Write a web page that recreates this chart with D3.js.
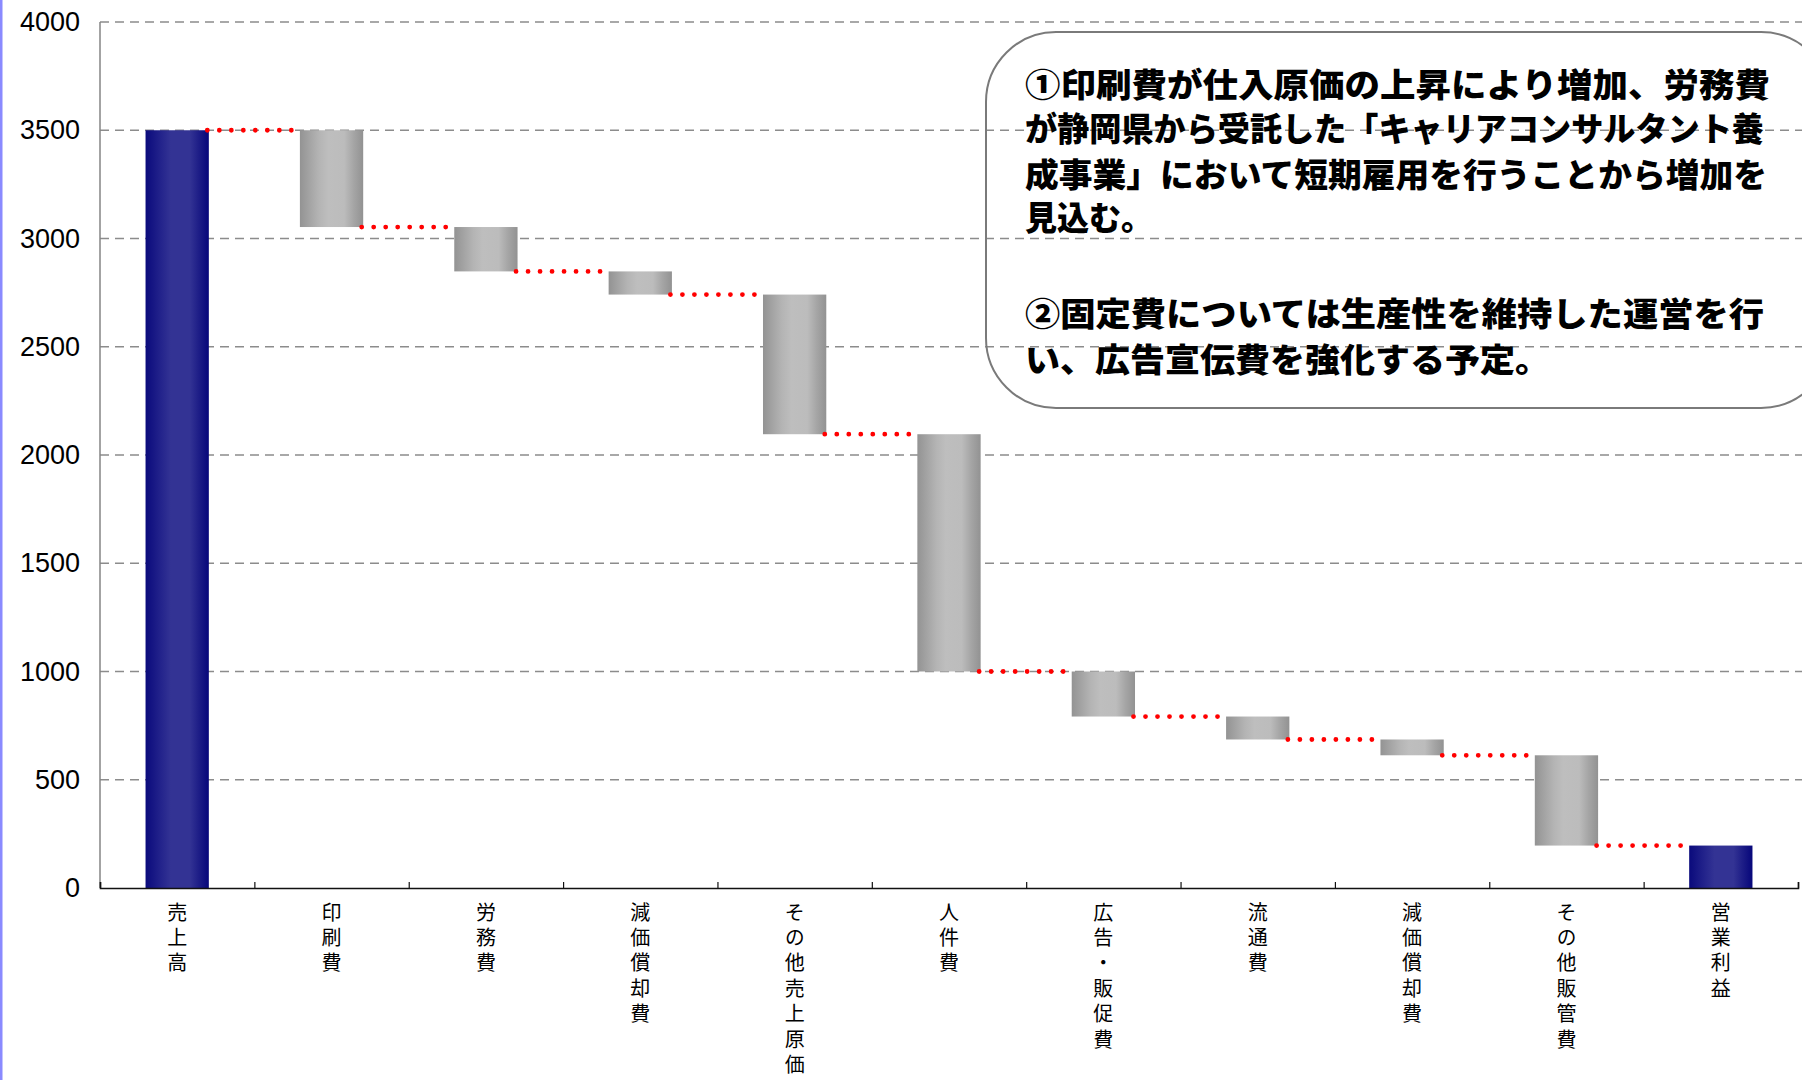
<!DOCTYPE html>
<html><head><meta charset="utf-8">
<script src="https://cdn.jsdelivr.net/npm/d3@7"></script>
<style>body{margin:0;background:#fff;} svg{display:block;}</style>
</head><body>
<svg id="chart" width="1802" height="1080"></svg>
<script>
const categories = ["売上高","印刷費","労務費","減価償却費","その他売上原価","人件費","広告・販促費","流通費","減価償却費","その他販管費","営業利益"];
const values = [3500,-447,-205,-107,-645,-1096,-208,-106,-73,-417,196];
const isTotal = [true,false,false,false,false,false,false,false,false,false,true];
const yTicks = [0,500,1000,1500,2000,2500,3000,3500,4000];
const noteLines = [
  "①印刷費が仕入原価の上昇により増加、労務費",
  "が静岡県から受託した「キャリアコンサルタント養",
  "成事業」において短期雇用を行うことから増加を",
  "見込む。",
  "",
  "②固定費については生産性を維持した運営を行",
  "い、広告宣伝費を強化する予定。"
];

(function(){
const svg = d3.select("#chart");
const W = 1802, H = 1080;
const pLeft = 100, pRight = 1798, pTop = 22, pBottom = 888;

let running = 0;
const bars = values.map((v,i)=>{
  let s,e;
  if (isTotal[i]) { s = 0; e = v; running = v; }
  else { s = running; e = running + v; running = e; }
  return {i, cat: categories[i], start: s, end: e, total: isTotal[i]};
});

const x = d3.scaleBand().domain(d3.range(categories.length)).range([pLeft,pRight]).padding(0);
const xb = d3.scaleLinear().domain([0,categories.length]).range([pLeft,pRight]);
const y = d3.scaleLinear().domain([0,4000]).range([pBottom,pTop]);
const bw = x.step()*0.41;
const bx = i => x(i) + (x.bandwidth()-bw)/2;

const defs = svg.append("defs");
function grad(id, stops){
  const g = defs.append("linearGradient").attr("id",id).attr("x1","0%").attr("x2","100%").attr("y1","0%").attr("y2","0%");
  stops.forEach(([o,c])=>g.append("stop").attr("offset",o).attr("stop-color",c));
}
grad("gNavy",[["0%","#0a0a7c"],["25%","#24248c"],["40%","#333394"],["70%","#333394"],["85%","#1c1c86"],["100%","#06067a"]]);
grad("gGray",[["0%","#939393"],["30%","#b4b4b4"],["45%","#bebebe"],["70%","#bcbcbc"],["85%","#a5a5a5"],["100%","#929292"]]);

svg.append("rect").attr("x",0).attr("y",0).attr("width",2.5).attr("height",H).attr("fill","#8a8aff");

svg.append("g").selectAll("line").data(yTicks.filter(d=>d>0)).join("line")
  .attr("x1",pLeft).attr("x2",W).attr("y1",d=>y(d)).attr("y2",d=>y(d))
  .attr("stroke","#8c8c8c").attr("stroke-width",1.3).attr("stroke-dasharray","9,6");

svg.append("line").attr("x1",pLeft).attr("x2",pLeft).attr("y1",pTop).attr("y2",pBottom)
  .attr("stroke","#858585").attr("stroke-width",1.5);

const yAxis = svg.append("g").attr("transform",`translate(${pLeft},0)`)
  .call(d3.axisLeft(y).tickValues(yTicks).tickSize(0).tickPadding(20).tickFormat(d3.format("d")));
yAxis.select(".domain").remove();
yAxis.selectAll("text").attr("font-family","'Liberation Sans', Arial, sans-serif").attr("font-size",27).attr("fill","#000");

svg.append("g").selectAll("rect").data(bars).join("rect")
  .attr("x",d=>bx(d.i)).attr("width",bw)
  .attr("y",d=>y(Math.max(d.start,d.end)))
  .attr("height",d=>Math.abs(y(d.start)-y(d.end)))
  .attr("fill",d=>d.total?"url(#gNavy)":"url(#gGray)");

const conns = bars.slice(0,-1).map(d=>({level:d.end, x1:bx(d.i)+bw-1.5, x2:bx(d.i+1)+1.5}));
svg.append("g").selectAll("line").data(conns).join("line")
  .attr("x1",d=>d.x1).attr("x2",d=>d.x2).attr("y1",d=>y(d.level)).attr("y2",d=>y(d.level))
  .attr("stroke","#ff0000").attr("stroke-width",4.8).attr("stroke-linecap","round")
  .attr("stroke-dasharray","0,12");

const xAxis = svg.append("g").attr("transform",`translate(0,${pBottom})`)
  .call(d3.axisBottom(xb).tickValues(d3.range(categories.length+1)).tickSize(-6).tickFormat(""));
xAxis.select(".domain").attr("stroke","#111").attr("stroke-width",1.6);
xAxis.selectAll(".tick line").attr("stroke","#111").attr("stroke-width",1.2);

svg.append("g").selectAll("text").data(categories).join("text")
  .attr("x",(c,i)=>x(i)+x.bandwidth()/2).attr("y",902)
  .attr("font-family","'Noto Sans CJK JP', sans-serif").attr("font-size",20).attr("fill","#000")
  .style("writing-mode","vertical-rl").attr("letter-spacing",5.4)
  .text(c=>c);

svg.append("rect").attr("x",986).attr("y",32).attr("width",845).attr("height",376).attr("rx",70).attr("ry",70)
  .attr("fill","none").attr("stroke","#7a7a7a").attr("stroke-width",2);
const noteY = [85,129,175,218,0,314,360];
const noteW = [745,739,742,128,0,739,525];
const note = svg.append("text").attr("font-family","'Noto Sans CJK JP', sans-serif").attr("font-size",33.5).attr("font-weight",900).attr("fill","#000");
noteLines.forEach((t,k)=>{
  if(!t) return;
  note.append("tspan").attr("x",1025).attr("y",noteY[k]+12)
    .attr("textLength",noteW[k]).attr("lengthAdjust","spacingAndGlyphs").text(t);
});
})();
</script>
</body></html>
